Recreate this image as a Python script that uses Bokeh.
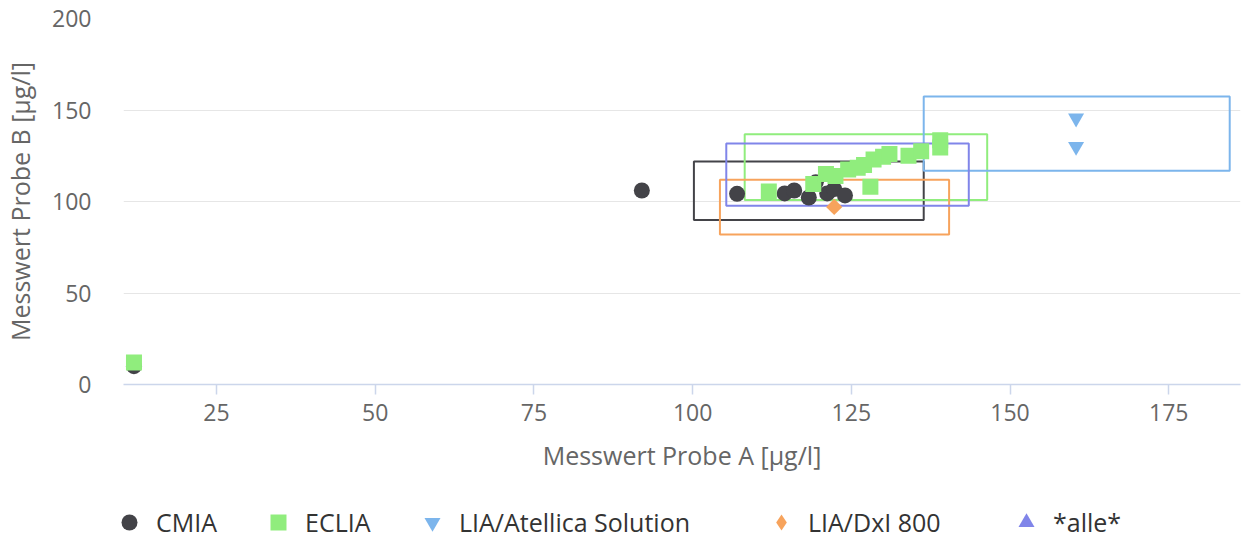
import math

from bokeh.embed import file_html
from bokeh.layouts import column
from bokeh.models import FixedTicker, Legend, LegendItem, Range1d
from bokeh.plotting import figure
from bokeh.resources import INLINE

# --- measurement pairs per method (Probe A, Probe B) in µg/l ---
cmia_a = [12, 92, 107, 114.5, 116, 118.3, 119.4, 121.2, 122.3, 124]
cmia_b = [10, 106, 104.2, 104.4, 106, 102.2, 110.5, 104.4, 106.8, 103.3]

eclia_a = [12, 112, 119, 121, 122.5, 124.5, 126, 127, 128.5, 128, 130, 131, 134, 136, 139, 139]
eclia_b = [12, 105.5, 109.5, 115, 114, 117.5, 118.5, 120, 123, 108, 124.5, 126, 125, 127.5, 133.5, 129.5]

atellica_a = [160.4, 160.4]
atellica_b = [145.5, 130]

dxi_a = [122.3]
dxi_b = [97]

# --- acceptance ranges per method: [A low, A high], [B low, B high] ---
methods = ["CMIA", "ECLIA", "LIA/Atellica Solution", "LIA/DxI 800", "*alle*"]
range_a_low = [100.2, 108.2, 136.4, 104.3, 105.3]
range_a_high = [136.4, 146.4, 184.6, 140.4, 143.5]
range_b_low = [89.9, 100.8, 116.8, 81.9, 97.7]
range_b_high = [121.9, 136.8, 157.4, 111.9, 131.7]

colors = ["#434348", "#90ed7d", "#7cb5ec", "#f7a35c", "#8085e9"]
legend_markers = ["circle", "square", "inverted_triangle", "diamond", "triangle"]

x_ticks = [25, 50, 75, 100, 125, 150, 175]
y_ticks = [0, 50, 100, 150, 200]

FONT = "Open Sans"
AXIS_COLOR = "#666666"

p = figure(
    width=1241,
    height=490,
    output_backend="svg",
    toolbar_location=None,
    x_range=Range1d(10.35, 186.3),
    y_range=Range1d(0, 200),
    min_border_left=123,
    min_border_right=1,
    min_border_top=18,
    min_border_bottom=106,
)
p.frame_align = False
p.outline_line_color = None
p.background_fill_color = "white"
p.border_fill_color = "white"

# grid: horizontal lines only
p.xgrid.grid_line_color = None
p.ygrid.grid_line_color = "#e6e6e6"
p.ygrid.grid_line_width = 1
p.ygrid.ticker = FixedTicker(ticks=y_ticks)

# x axis
xa = p.xaxis[0]
xa.ticker = FixedTicker(ticks=x_ticks)
xa.axis_label = "Messwert Probe A [µg/l]"
xa.axis_line_color = "#ccd6eb"
xa.axis_line_width = 1.5
xa.major_tick_line_color = "#ccd6eb"
xa.major_tick_line_width = 1.5
xa.major_tick_out = 10
xa.major_tick_in = 0
xa.minor_tick_line_color = None
xa.major_label_text_font = FONT
xa.major_label_text_font_size = "23px"
xa.major_label_text_color = AXIS_COLOR
xa.major_label_standoff = 9
xa.axis_label_text_font = FONT
xa.axis_label_text_font_size = "25px"
xa.axis_label_text_font_style = "normal"
xa.axis_label_text_color = AXIS_COLOR
xa.axis_label_standoff = 14

# y axis
ya = p.yaxis[0]
ya.ticker = FixedTicker(ticks=y_ticks)
ya.axis_label = "Messwert Probe B [µg/l]"
ya.axis_line_color = None
ya.major_tick_line_color = None
ya.minor_tick_line_color = None
ya.major_label_text_font = FONT
ya.major_label_text_font_size = "23px"
ya.major_label_text_color = AXIS_COLOR
ya.major_label_standoff = 26
ya.axis_label_text_font = FONT
ya.axis_label_text_font_size = "25px"
ya.axis_label_text_font_style = "normal"
ya.axis_label_text_color = AXIS_COLOR
ya.axis_label_standoff = 12

# range boxes (outline only), below the markers
p.quad(
    left=range_a_low,
    right=range_a_high,
    bottom=range_b_low,
    top=range_b_high,
    fill_color=None,
    line_color=colors,
    line_width=2,
)

# markers
p.scatter(cmia_a, cmia_b, marker="circle", size=16,
          fill_color=colors[0], line_color=None)
p.scatter(eclia_a, eclia_b, marker="square", size=16,
          fill_color=colors[1], line_color=None)
p.scatter(atellica_a, atellica_b, marker="inverted_triangle", size=16,
          fill_color=colors[2], line_color=None)
p.scatter(dxi_a, dxi_b, marker="square", size=11.5, angle=math.pi / 4,
          fill_color=colors[3], line_color=None)

# legend strip under the chart
leg_fig = figure(
    width=1241,
    height=48,
    output_backend="svg",
    toolbar_location=None,
    x_range=Range1d(0, 1),
    y_range=Range1d(0, 1),
    x_axis_type=None,
    y_axis_type=None,
    min_border=0,
    min_border_left=0,
    min_border_right=0,
    min_border_top=0,
    min_border_bottom=0,
)
leg_fig.frame_align = False
leg_fig.outline_line_color = None
leg_fig.border_fill_color = "white"
leg_fig.background_fill_color = "white"

# legend swatches: one non-plotted (NaN) sample per method, styled like its series
legend_x = [109, 258, 412, 761, 1006]
for label, color, marker, lx in zip(methods, colors, legend_markers, legend_x):
    swatch = leg_fig.scatter([float("nan")], [float("nan")], marker=marker,
                             size=16, fill_color=color, line_color=None)
    leg = Legend(
        items=[LegendItem(label=label, renderers=[swatch])],
        location=(lx, -4),
        orientation="horizontal",
        background_fill_alpha=0,
        border_line_color=None,
        padding=0,
        margin=0,
        glyph_width=40,
        glyph_height=40,
        label_standoff=7,
        label_text_font=FONT,
        label_text_font_size="25px",
        label_text_color="#333333",
        label_text_baseline="middle",
    )
    leg_fig.add_layout(leg)

layout = column(p, leg_fig, spacing=0)

open("out.html", "w").write(file_html(layout, INLINE))
